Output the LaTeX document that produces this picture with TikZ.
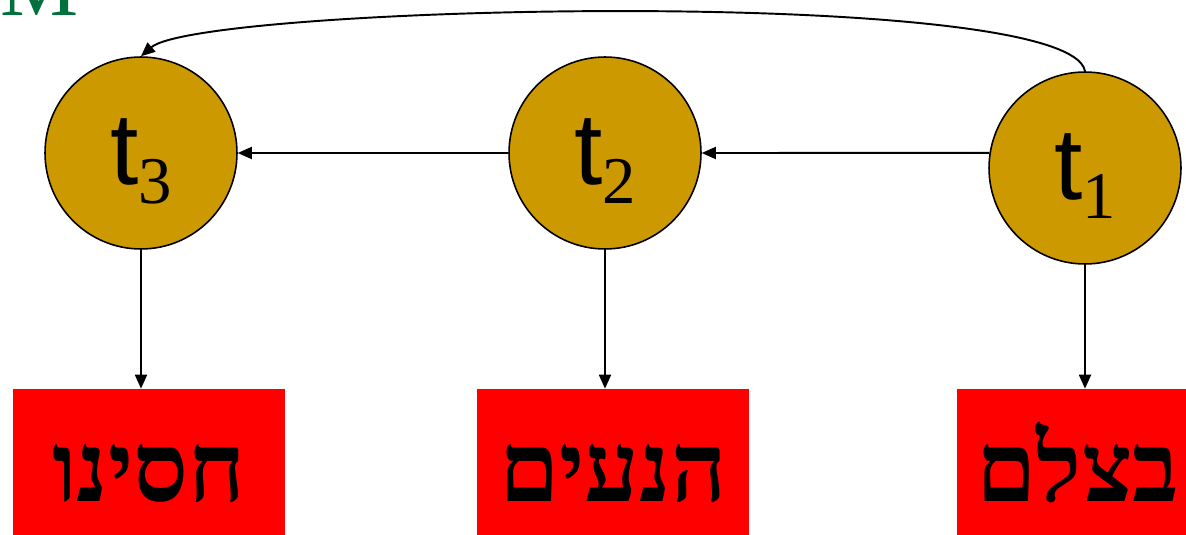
\documentclass[tikz,border=0pt]{standalone}
\usepackage{fontspec}
\setmainfont{Liberation Serif}
\newfontfamily\hebfont[Script=Hebrew]{Liberation Serif}
\newfontfamily\labelfont{Liberation Sans}
\usetikzlibrary{arrows.meta,positioning,calc}
\TeXXeTstate=1
\definecolor{gold}{RGB}{204,153,0}
\definecolor{titlegreen}{RGB}{0,112,60}
\newcommand{\tlabel}[1]{\raisebox{-18pt}[0pt][0pt]{{\labelfont\fontsize{58}{58}\selectfont t}\raisebox{-11pt}{\fontsize{38}{38}\selectfont #1}}}
\newcommand{\hebword}[1]{\raisebox{-15pt}[0pt][0pt]{\hebfont\bfseries\fontsize{55}{55}\selectfont\beginR #1\endR}}

\begin{document}
\begin{tikzpicture}[x=0.02cm,y=-0.02cm,
    tnode/.style={circle,draw=black,line width=0.9pt,fill=gold,minimum size=3.84cm,inner sep=0pt},
    wordbox/.style={rectangle,fill=red,minimum width=5.44cm,minimum height=3.44cm,inner sep=0pt},
    link/.style={line width=1.1pt,-{Triangle[length=0.28cm,width=0.24cm]}}]
    \useasboundingbox (0,0) rectangle (1186,534);

    % title, cut off at the top
    \node[titlegreen,anchor=base west,inner sep=0pt,font=\fontsize{50}{50}\selectfont] (title) at (0,15) {M};

    % states
    \node[tnode] (t3) at (141,153) {\tlabel{3}};
    \node[tnode] (t2) at (605,153) {\tlabel{2}};
    \node[tnode] (t1) at (1085,168) {\tlabel{1}};

    % words
    \node[wordbox] (w3) at (149,475) {\hebword{חסינו}};
    \node[wordbox] (w2) at (613,475) {\hebword{הנעים}};
    \node[wordbox,minimum width=4.84cm] (w1) at (1078,475) {\hebword{בצלם}};

    % transitions
    \draw[link] (t1.171) -- (t2.east);
    \draw[link] (t2.west) -- (t3.east);
    \draw[link] (t1.north) .. controls (1070,-15) and (200,5) .. (t3.north);

    % emissions
    \draw[link] (t3.south) -- (t3.south |- w3.north);
    \draw[link] (t2.south) -- (t2.south |- w2.north);
    \draw[link] (t1.south) -- (t1.south |- w1.north);
\end{tikzpicture}
\end{document}
